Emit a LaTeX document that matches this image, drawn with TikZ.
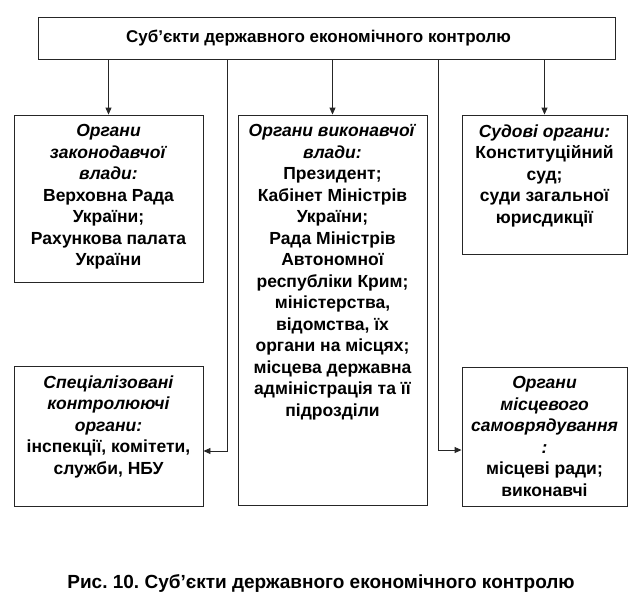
\documentclass[tikz,border=0pt]{standalone}
\usepackage{fontspec}
\setmainfont{Liberation Sans}
\usetikzlibrary{arrows.meta}
\frenchspacing
\begin{document}
\begin{tikzpicture}[x=1pt,y=-1pt,
  box/.style={draw=black!85, line width=0.9pt, inner sep=0pt},
  txt/.style={anchor=north, align=center, inner sep=0pt, font=\fontsize{17.5}{21.5}\selectfont\bfseries},
  conn/.style={draw=black!85, line width=0.9pt},
  arr/.style={conn, -{Triangle[length=7pt,width=6pt]}}]
\useasboundingbox (0,0) rectangle (642,606);
% boxes
\node[box, minimum width=577pt, minimum height=42pt] (top) at (326.5,38) {};
\node[box, minimum width=189pt, minimum height=167pt] (L1) at (108.5,198.5) {};
\node[box, minimum width=189pt, minimum height=390pt] (M) at (332.5,310) {};
\node[box, minimum width=165pt, minimum height=139pt] (R1) at (544.5,184.5) {};
\node[box, minimum width=189pt, minimum height=140pt] (L2) at (108.5,436) {};
\node[box, minimum width=165pt, minimum height=139pt] (R2) at (544.5,436.5) {};
% texts
\node[anchor=base, inner sep=0pt, font=\fontsize{17}{21}\selectfont\bfseries] (ttl) at (318.5,42) {Суб’єкти державного економічного контролю};
\node[txt] (tL1) at (108.5,124.5) {\textit{Органи}\\ \textit{законодавчої}\\ \textit{влади:}\\ Верховна Рада\\ України;\\ Рахункова палата\\ України};
\node[txt] (tM) at (332.5,124.5) {\textit{Органи виконавчої}\\ \textit{влади:}\\ Президент;\\ Кабінет Міністрів\\ України;\\ Рада Міністрів\\ Автономної\\ республіки Крим;\\ міністерства,\\ відомства, їх\\ органи на місцях;\\ місцева державна\\ адміністрація та її\\ підрозділи};
\node[txt] (tR1) at (544.5,124.5) {\textit{Судові органи:}\\ Конституційний\\ суд;\\ суди загальної\\ юрисдикції};
\node[txt] (tL2) at (108.5,375.5) {\textit{Спеціалізовані}\\ \textit{контролюючі}\\ \textit{органи:}\\ інспекції, комітети,\\ служби, НБУ};
\node[txt] (tR2) at (544.5,376.5) {\textit{Органи}\\ \textit{місцевого}\\ \textit{самоврядування}\\ \textit{:}\\ місцеві ради;\\ виконавчі};
% caption
\node[anchor=base, inner sep=0pt, font=\fontsize{19}{23}\selectfont\bfseries] (cap) at (321,588) {Рис. 10. Суб’єкти державного економічного контролю};
% connectors
\coordinate (lj) at (227,451);
\coordinate (rj) at (438,450);
\draw[arr] (top.south -| L1.north) -- (L1.north);
\draw[arr] (top.south -| M.north) -- (M.north);
\draw[arr] (top.south -| R1.north) -- (R1.north);
\draw[arr] (top.south -| lj) -- (lj) -- (L2.east |- lj);
\draw[arr] (top.south -| rj) -- (rj) -- (R2.west |- rj);
\end{tikzpicture}
\end{document}
